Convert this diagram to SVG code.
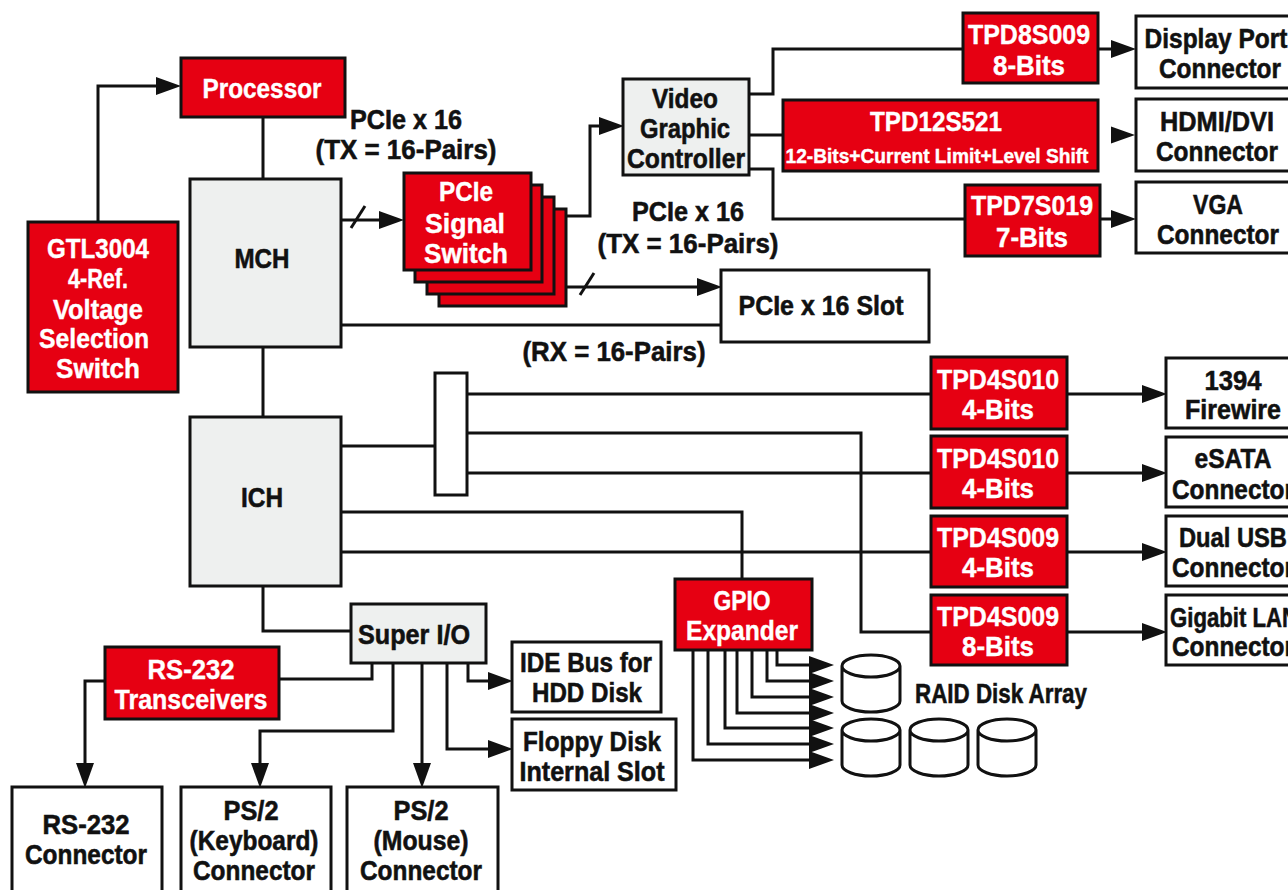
<svg xmlns="http://www.w3.org/2000/svg" width="1288" height="890" viewBox="0 0 1288 890">
<style>
text{font-family:"Liberation Sans",Arial,sans-serif;font-weight:700;font-size:27px;text-anchor:middle;fill:#111;stroke:#111;stroke-width:.55}
.w{fill:#fff;stroke:#fff;stroke-width:.4}
.s{font-size:20px}
rect,.d{stroke:#111;stroke-width:3}
.r{fill:#e60012}
.g{fill:#eef0ef}
.n{fill:#fff}
.d{fill:#fff}
#connectors path{fill:none;stroke:#111;stroke-width:3}
#connectors .a{marker-end:url(#ah)}
</style>
<defs>
<marker id="ah" markerUnits="userSpaceOnUse" markerWidth="26" markerHeight="20" refX="13" refY="9" orient="auto"><polygon points="0,0 25,9 0,18" fill="#111"/></marker>
<path id="disk" d="M-29,11V46C-29,52 -16,57 0,57S29,52 29,46V11C29,5 16,0 0,0S-29,5 -29,11C-29,17 -16,22 0,22S29,17 29,11"/>
</defs>
<rect width="1288" height="890" fill="#fff" style="stroke:none"/>
<g id="connectors">
<path class="a" d="M98,222V86H169"/>
<path d="M263,117V179M263,347V417"/>
<path class="a" d="M341,220H392"/><path d="M351,228L365,206"/>
<path class="a" d="M566,216H590V126H612"/>
<path d="M749,94H773V49H963M749,135H783M749,169H773V219H965"/>
<path class="a" d="M1098,49H1124"/><polygon points="1111,126.5 1135,135 1111,143.5" fill="#111"/><path class="a" d="M1100,219H1124"/>
<path class="a" d="M566,287H710"/><path d="M580,295L594,273"/>
<path d="M341,325H721M341,446H435"/>
<path d="M467,394H931M467,473H931M467,433H861V632H931"/>
<path class="a" d="M1067,394H1155"/><path class="a" d="M1067,473H1155"/><path class="a" d="M1067,552H1155"/><path class="a" d="M1067,632H1155"/>
<path d="M341,512H742V579M341,552H931"/>
<path d="M263,586V631H351"/>
<path d="M372,663V679H279"/>
<path class="a" d="M393,663V731H260V776"/>
<path class="a" d="M422,663V776"/>
<path class="a" d="M447,663V749H501"/>
<path class="a" d="M468,663V681H501"/>
<path class="a" d="M105,681H85V776"/>
<path class="a" d="M777,650V665H822"/>
<path class="a" d="M767,650V681H822"/>
<path class="a" d="M752,650V697H822"/>
<path class="a" d="M737,650V713H822"/>
<path class="a" d="M725,650V728H822"/>
<path class="a" d="M708,650V744H822"/>
<path class="a" d="M693,650V760H822"/>
</g>
<g id="gtl3004"><rect class="r" x="28" y="222" width="150" height="170"/>
<text class="w" x="98" y="258" textLength="102" lengthAdjust="spacingAndGlyphs">GTL3004</text>
<text class="w" x="98" y="288" textLength="60" lengthAdjust="spacingAndGlyphs">4-Ref.</text>
<text class="w" x="98" y="319" textLength="90" lengthAdjust="spacingAndGlyphs">Voltage</text>
<text class="w" x="94" y="348" textLength="110" lengthAdjust="spacingAndGlyphs">Selection</text>
<text class="w" x="98" y="378" textLength="84" lengthAdjust="spacingAndGlyphs">Switch</text></g>
<g id="processor"><rect class="r" x="181" y="58" width="164" height="59"/><text class="w" x="262" y="98" textLength="119" lengthAdjust="spacingAndGlyphs">Processor</text></g>
<g id="mch"><rect class="g" x="190" y="179" width="151" height="168"/><text x="262" y="268" textLength="55" lengthAdjust="spacingAndGlyphs">MCH</text></g>
<g id="ich"><rect class="g" x="190" y="417" width="151" height="169"/><text x="262" y="507" textLength="42" lengthAdjust="spacingAndGlyphs">ICH</text></g>
<g id="label-pcie-tx1"><text x="406" y="129" textLength="112" lengthAdjust="spacingAndGlyphs">PCIe x 16</text><text x="406" y="159" textLength="181" lengthAdjust="spacingAndGlyphs">(TX = 16-Pairs)</text></g>
<g id="pcie-switch">
<rect class="r" x="439" y="209" width="127" height="97"/><rect class="r" x="427" y="197" width="127" height="97"/><rect class="r" x="415" y="185" width="127" height="97"/><rect class="r" x="404" y="173" width="127" height="97"/>
<text class="w" x="466" y="201" textLength="54" lengthAdjust="spacingAndGlyphs">PCIe</text>
<text class="w" x="465" y="233" textLength="80" lengthAdjust="spacingAndGlyphs">Signal</text>
<text class="w" x="466" y="263" textLength="84" lengthAdjust="spacingAndGlyphs">Switch</text></g>
<g id="video"><rect class="g" x="623" y="79" width="126" height="96"/>
<text x="685" y="108" textLength="66" lengthAdjust="spacingAndGlyphs">Video</text>
<text x="685" y="138" textLength="90" lengthAdjust="spacingAndGlyphs">Graphic</text>
<text x="686" y="168" textLength="118" lengthAdjust="spacingAndGlyphs">Controller</text></g>
<g id="tpd8s009"><rect class="r" x="963" y="13" width="135" height="70"/>
<text class="w" x="1029" y="44" textLength="122" lengthAdjust="spacingAndGlyphs">TPD8S009</text>
<text class="w" x="1029" y="75" textLength="72" lengthAdjust="spacingAndGlyphs">8-Bits</text></g>
<g id="tpd12s521"><rect class="r" x="783" y="100" width="315" height="71"/>
<text class="w" x="936" y="131" textLength="132" lengthAdjust="spacingAndGlyphs">TPD12S521</text>
<text class="w s" x="937" y="163" textLength="303" lengthAdjust="spacingAndGlyphs">12-Bits+Current Limit+Level Shift</text></g>
<g id="tpd7s019"><rect class="r" x="965" y="185" width="135" height="71"/>
<text class="w" x="1032" y="215" textLength="122" lengthAdjust="spacingAndGlyphs">TPD7S019</text>
<text class="w" x="1032" y="247" textLength="72" lengthAdjust="spacingAndGlyphs">7-Bits</text></g>
<g id="displayport"><rect class="n" x="1136" y="16" width="170" height="72"/>
<text x="1216" y="48" textLength="143" lengthAdjust="spacingAndGlyphs">Display Port</text>
<text x="1220" y="78" textLength="122" lengthAdjust="spacingAndGlyphs">Connector</text></g>
<g id="hdmi"><rect class="n" x="1136" y="99" width="170" height="72"/>
<text x="1217" y="131" textLength="114" lengthAdjust="spacingAndGlyphs">HDMI/DVI</text>
<text x="1217" y="161" textLength="122" lengthAdjust="spacingAndGlyphs">Connector</text></g>
<g id="vga"><rect class="n" x="1136" y="182" width="170" height="71"/>
<text x="1218" y="214" textLength="50" lengthAdjust="spacingAndGlyphs">VGA</text>
<text x="1218" y="244" textLength="122" lengthAdjust="spacingAndGlyphs">Connector</text></g>
<g id="label-pcie-tx2"><text x="688" y="221" textLength="112" lengthAdjust="spacingAndGlyphs">PCIe x 16</text><text x="688" y="253" textLength="181" lengthAdjust="spacingAndGlyphs">(TX = 16-Pairs)</text></g>
<g id="slot"><rect class="n" x="721" y="270" width="208" height="72"/><text x="821" y="315" textLength="165" lengthAdjust="spacingAndGlyphs">PCIe x 16 Slot</text></g>
<g id="label-rx"><text x="614" y="361" textLength="183" lengthAdjust="spacingAndGlyphs">(RX = 16-Pairs)</text></g>
<g id="mux"><rect class="n" x="435" y="373" width="32" height="122"/></g>
<g id="tpd4s010a"><rect class="r" x="931" y="357" width="136" height="72"/>
<text class="w" x="998" y="389" textLength="122" lengthAdjust="spacingAndGlyphs">TPD4S010</text>
<text class="w" x="998" y="419" textLength="72" lengthAdjust="spacingAndGlyphs">4-Bits</text></g>
<g id="tpd4s010b"><rect class="r" x="931" y="436" width="136" height="72"/>
<text class="w" x="998" y="468" textLength="122" lengthAdjust="spacingAndGlyphs">TPD4S010</text>
<text class="w" x="998" y="498" textLength="72" lengthAdjust="spacingAndGlyphs">4-Bits</text></g>
<g id="tpd4s009a"><rect class="r" x="931" y="516" width="136" height="71"/>
<text class="w" x="998" y="547" textLength="122" lengthAdjust="spacingAndGlyphs">TPD4S009</text>
<text class="w" x="998" y="577" textLength="72" lengthAdjust="spacingAndGlyphs">4-Bits</text></g>
<g id="tpd4s009b"><rect class="r" x="931" y="595" width="136" height="70"/>
<text class="w" x="998" y="626" textLength="122" lengthAdjust="spacingAndGlyphs">TPD4S009</text>
<text class="w" x="998" y="656" textLength="72" lengthAdjust="spacingAndGlyphs">8-Bits</text></g>
<g id="firewire"><rect class="n" x="1166" y="358" width="140" height="70"/>
<text x="1233" y="390" textLength="57" lengthAdjust="spacingAndGlyphs">1394</text>
<text x="1233" y="419" textLength="96" lengthAdjust="spacingAndGlyphs">Firewire</text></g>
<g id="esata"><rect class="n" x="1166" y="437" width="140" height="70"/>
<text x="1233" y="468" textLength="77" lengthAdjust="spacingAndGlyphs">eSATA</text>
<text x="1233" y="499" textLength="122" lengthAdjust="spacingAndGlyphs">Connector</text></g>
<g id="usb"><rect class="n" x="1166" y="516" width="140" height="70"/>
<text x="1233" y="547" textLength="108" lengthAdjust="spacingAndGlyphs">Dual USB</text>
<text x="1233" y="577" textLength="122" lengthAdjust="spacingAndGlyphs">Connector</text></g>
<g id="lan"><rect class="n" x="1166" y="595" width="140" height="70"/>
<text x="1234" y="627" textLength="128" lengthAdjust="spacingAndGlyphs">Gigabit LAN</text>
<text x="1233" y="656" textLength="122" lengthAdjust="spacingAndGlyphs">Connector</text></g>
<g id="gpio"><rect class="r" x="675" y="579" width="137" height="71"/>
<text class="w" x="742" y="610" textLength="57" lengthAdjust="spacingAndGlyphs">GPIO</text>
<text class="w" x="742" y="640" textLength="112" lengthAdjust="spacingAndGlyphs">Expander</text></g>
<g id="raid">
<use class="d" href="#disk" x="871" y="655"/><use class="d" href="#disk" x="871" y="719"/><use class="d" href="#disk" x="939" y="719"/><use class="d" href="#disk" x="1007" y="719"/>
<text x="1001" y="703" textLength="172" lengthAdjust="spacingAndGlyphs">RAID Disk Array</text></g>
<g id="superio"><rect class="g" x="351" y="604" width="135" height="59"/><text x="414" y="644" textLength="112" lengthAdjust="spacingAndGlyphs">Super I/O</text></g>
<g id="ide"><rect class="n" x="512" y="642" width="149" height="70"/>
<text x="586" y="672" textLength="132" lengthAdjust="spacingAndGlyphs">IDE Bus for</text>
<text x="587" y="702" textLength="110" lengthAdjust="spacingAndGlyphs">HDD Disk</text></g>
<g id="floppy"><rect class="n" x="512" y="719" width="164" height="71"/>
<text x="592" y="751" textLength="138" lengthAdjust="spacingAndGlyphs">Floppy Disk</text>
<text x="592" y="781" textLength="145" lengthAdjust="spacingAndGlyphs">Internal Slot</text></g>
<g id="rs232t"><rect class="r" x="105" y="647" width="174" height="72"/>
<text class="w" x="191" y="679" textLength="87" lengthAdjust="spacingAndGlyphs">RS-232</text>
<text class="w" x="191" y="709" textLength="153" lengthAdjust="spacingAndGlyphs">Transceivers</text></g>
<g id="rs232c"><rect class="n" x="12" y="787" width="150" height="120"/>
<text x="86" y="834" textLength="87" lengthAdjust="spacingAndGlyphs">RS-232</text>
<text x="86" y="864" textLength="122" lengthAdjust="spacingAndGlyphs">Connector</text></g>
<g id="ps2k"><rect class="n" x="181" y="787" width="150" height="120"/>
<text x="251" y="820" textLength="55" lengthAdjust="spacingAndGlyphs">PS/2</text>
<text x="254" y="850" textLength="129" lengthAdjust="spacingAndGlyphs">(Keyboard)</text>
<text x="254" y="880" textLength="122" lengthAdjust="spacingAndGlyphs">Connector</text></g>
<g id="ps2m"><rect class="n" x="347" y="787" width="151" height="120"/>
<text x="421" y="820" textLength="55" lengthAdjust="spacingAndGlyphs">PS/2</text>
<text x="421" y="850" textLength="95" lengthAdjust="spacingAndGlyphs">(Mouse)</text>
<text x="421" y="880" textLength="122" lengthAdjust="spacingAndGlyphs">Connector</text></g>
</svg>
